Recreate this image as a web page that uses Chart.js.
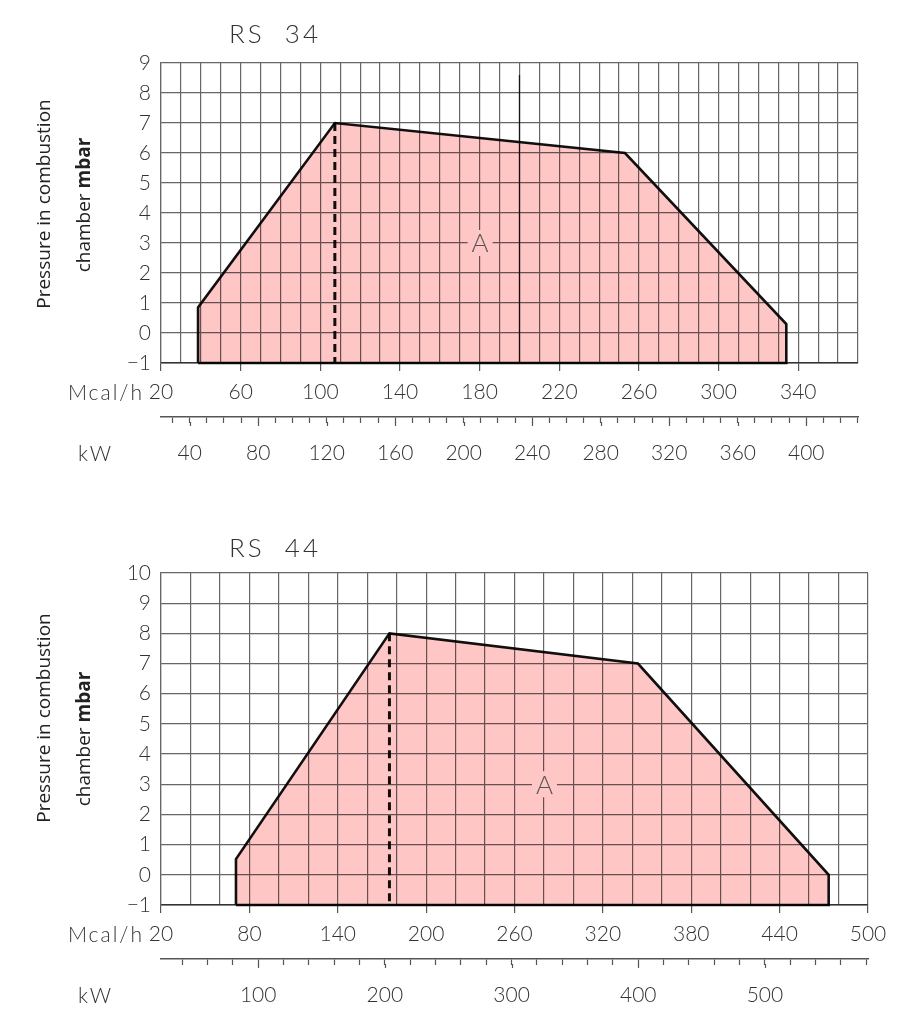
<!DOCTYPE html>
<html>
<head>
<meta charset="utf-8">
<script src="https://cdn.jsdelivr.net/npm/chart.js@4.4.1/dist/chart.umd.min.js"></script>
<style>
  html, body { margin: 0; padding: 0; background: #fff; }
  #wrap { position: relative; width: 924px; height: 1024px; }
  canvas { position: absolute; left: 0; }
  #rs34 { top: 0; }
  #rs44 { top: 490px; }
</style>
</head>
<body>
<div id="wrap">
  <canvas id="rs34" width="924" height="480"></canvas>
  <canvas id="rs44" width="924" height="534"></canvas>
</div>
<script>
// 1 kW = 0.86 Mcal/h, the kW axis is just a second scale over the same range
const MCAL_PER_KW = 0.86;

// RS 34 - working field, x in Mcal/h, y in mbar
const rs34FieldX = [38.6, 38.6, 107.3, 253, 334, 334, 38.6];
const rs34FieldY = [-1, 0.85, 7, 6, 0.3, -1, -1];
const rs34MinX = [107.3, 107.3];
const rs34MinY = [7, -1];
const rs34MarkX = [200, 200];
const rs34MarkY = [8.6, -1];
const rs34McalRange = [20, 370];
const rs34MbarRange = [-1, 9];
const rs34McalLabels = [20, 60, 100, 140, 180, 220, 260, 300, 340];
const rs34KwLabels = [40, 80, 120, 160, 200, 240, 280, 320, 360, 400];
const rs34MbarLabels = [-1, 0, 1, 2, 3, 4, 5, 6, 7, 8, 9];

// RS 44
const rs44FieldX = [70.9, 70.9, 175.1, 343.8, 473.3, 473.3, 70.9];
const rs44FieldY = [-1, 0.52, 8, 7, 0, -1, -1];
const rs44MinX = [175.1, 175.1];
const rs44MinY = [8, -1];
const rs44McalRange = [20, 500];
const rs44MbarRange = [-1, 10];
const rs44McalLabels = [20, 80, 140, 200, 260, 320, 380, 440, 500];
const rs44KwLabels = [100, 200, 300, 400, 500];
const rs44MbarLabels = [-1, 0, 1, 2, 3, 4, 5, 6, 7, 8, 9, 10];

const ink = '#333';
const gridColor = '#666';
const fieldColor = '#ffc6c6';
const numFont = { family: 'Lato, "Open Sans", sans-serif', size: 21, weight: 300 };

const fmt = v => String(v).replace('-', '\u2212');
const pts = (xs, ys) => xs.map((x, i) => ({ x, y: ys[i] }));

// extra drawing: zone label, titles, unit names, longer major ticks
const extras = {
  id: 'extras',
  // datasets are multiplied onto the grid so the grid stays visible under the pink field
  beforeDatasetsDraw(chart) {
    chart.ctx.save();
    chart.ctx.globalCompositeOperation = 'multiply';
  },
  afterDatasetsDraw(chart, args, opts) {
    const ctx = chart.ctx;
    ctx.restore();
    const px = chart.scales.x.getPixelForValue(opts.zone[0]);
    const py = chart.scales.y.getPixelForValue(opts.zone[1]);
    ctx.save();
    ctx.fillStyle = fieldColor;
    ctx.fillRect(px - 12, py - 13, 25, 26);
    ctx.fillStyle = '#555';
    ctx.font = '300 26px Lato';
    ctx.textAlign = 'center';
    ctx.textBaseline = 'middle';
    ctx.fillText('A', px + 0.5, py + 1);
    ctx.restore();
  },
  afterDraw(chart, args, opts) {
    const { ctx, chartArea } = chart;
    const xs = chart.scales.x;
    const x2 = chart.scales.x2;
    ctx.save();

    ctx.strokeStyle = '#555';
    ctx.lineWidth = 1.2;
    x2.ticks.forEach(t => {
      if (!opts.kwLabels.includes(t.value)) return;
      const px = Math.round(x2.getPixelForValue(t.value)) + 0.5;
      ctx.beginPath();
      ctx.moveTo(px, x2.top + 5);
      ctx.lineTo(px, x2.top + 9);
      ctx.stroke();
    });

    ctx.fillStyle = ink;
    ctx.font = '300 26px Lato';
    ctx.textAlign = 'left';
    ctx.textBaseline = 'alphabetic';
    ctx.letterSpacing = '3px';
    ctx.fillText(opts.title, 229, opts.titleY);

    ctx.font = '300 21px Lato';
    ctx.textAlign = 'right';
    ctx.textBaseline = 'middle';
    ctx.letterSpacing = '2px';
    ctx.fillText('Mcal/h', chartArea.left - 17, xs.top + 30);
    ctx.fillText('kW', chartArea.left - 48, x2.top + 37);
    ctx.letterSpacing = '0px';

    // rotated axis title
    ctx.fillStyle = '#222';
    ctx.save();
    ctx.translate(45, opts.yTitle[0]);
    ctx.rotate(-Math.PI / 2);
    ctx.font = '19px "Open Sans"';
    ctx.textAlign = 'center';
    ctx.fillText('Pressure in combustion', 0, 0);
    ctx.restore();

    ctx.save();
    ctx.translate(85, opts.yTitle[1]);
    ctx.rotate(-Math.PI / 2);
    ctx.font = '19px "Open Sans"';
    const w1 = ctx.measureText('chamber ').width;
    ctx.font = 'bold 19px "Open Sans"';
    const w2 = ctx.measureText('mbar').width;
    ctx.textAlign = 'left';
    ctx.font = '19px "Open Sans"';
    ctx.fillText('chamber ', -(w1 + w2) / 2, 0);
    ctx.font = 'bold 19px "Open Sans"';
    ctx.fillText('mbar', -(w1 + w2) / 2 + w1, 0);
    ctx.restore();

    ctx.restore();
  }
};

function makeChart(id, c) {
  const datasets = [
    {
      data: pts(c.fieldX, c.fieldY),
      order: 3,
      showLine: true,
      pointRadius: 0,
      borderColor: '#111',
      borderWidth: 2.6,
      borderJoinStyle: 'miter',
      backgroundColor: fieldColor,
      fill: 'shape',
      clip: false
    },
    {
      data: pts(c.minX, c.minY),
      order: 1,
      showLine: true,
      pointRadius: 0,
      borderColor: '#111',
      borderWidth: 3,
      borderDash: [8, 5],
      fill: false,
      clip: false
    }
  ];
  if (c.markX) {
    datasets.push({
      data: pts(c.markX, c.markY),
      order: 2,
      showLine: true,
      pointRadius: 0,
      borderColor: '#333',
      borderWidth: 1.3,
      fill: false
    });
  }

  return new Chart(document.getElementById(id), {
    type: 'scatter',
    data: { datasets },
    plugins: [extras],
    options: {
      responsive: false,
      animation: false,
      layout: { padding: c.padding },
      plugins: {
        legend: { display: false },
        tooltip: { enabled: false },
        extras: { title: c.title, titleY: c.titleY, zone: c.zone, kwLabels: c.kwLabels, yTitle: c.yTitle }
      },
      scales: {
        x: {
          type: 'linear',
          position: 'bottom',
          min: c.mcal[0],
          max: c.mcal[1],
          afterFit: s => { s.height = 54; },
          ticks: {
            stepSize: c.mcalStep,
            autoSkip: false,
            maxRotation: 0,
            padding: 9,
            color: ink,
            font: numFont,
            callback: v => c.mcalLabels.includes(v) ? fmt(v) : ''
          },
          grid: {
            color: gridColor,
            lineWidth: 1.2,
            tickLength: 8,
            tickWidth: 1.2,
            tickColor: ctx => c.mcalLabels.includes(ctx.tick.value) ? '#555' : 'rgba(0,0,0,0)'
          },
          border: { color: '#333', width: 1.5 }
        },
        x2: {
          type: 'linear',
          position: 'bottom',
          min: c.mcal[0] / MCAL_PER_KW,
          max: c.mcal[1] / MCAL_PER_KW,
          afterFit: s => { s.height = 50; },
          ticks: {
            stepSize: c.kwStep,
            includeBounds: false,
            autoSkip: false,
            maxRotation: 0,
            padding: 18,
            color: ink,
            font: numFont,
            callback: v => c.kwLabels.includes(v) ? fmt(v) : ''
          },
          grid: {
            drawOnChartArea: false,
            tickLength: 6,
            tickWidth: 1.2,
            tickColor: '#555'
          },
          border: { color: '#555', width: 1.5 }
        },
        y: {
          type: 'linear',
          min: c.mbar[0],
          max: c.mbar[1],
          afterFit: s => { s.width = 161; },
          ticks: {
            stepSize: 1,
            autoSkip: false,
            padding: 10,
            color: ink,
            font: numFont,
            callback: v => c.mbarLabels.includes(v) ? fmt(v) : ''
          },
          grid: { color: gridColor, lineWidth: 1.2, drawTicks: false },
          border: { color: gridColor, width: 1.2 }
        }
      }
    }
  });
}

makeChart('rs34', {
  title: 'RS  34', titleY: 43,
  fieldX: rs34FieldX, fieldY: rs34FieldY,
  minX: rs34MinX, minY: rs34MinY,
  markX: rs34MarkX, markY: rs34MarkY,
  mcal: rs34McalRange, mbar: rs34MbarRange,
  mcalStep: 10, kwStep: 10,
  mcalLabels: rs34McalLabels, kwLabels: rs34KwLabels, mbarLabels: rs34MbarLabels,
  zone: [180, 3],
  yTitle: [204, 205],
  padding: { top: 63, right: 66, bottom: 13, left: 0 }
});

makeChart('rs44', {
  title: 'RS  44', titleY: 67,
  fieldX: rs44FieldX, fieldY: rs44FieldY,
  minX: rs44MinX, minY: rs44MinY,
  mcal: rs44McalRange, mbar: rs44MbarRange,
  mcalStep: 20, kwStep: 20,
  mcalLabels: rs44McalLabels, kwLabels: rs44KwLabels, mbarLabels: rs44MbarLabels,
  zone: [280, 3],
  yTitle: [228, 249],
  padding: { top: 83, right: 56, bottom: 15, left: 0 }
});
</script>
</body>
</html>
